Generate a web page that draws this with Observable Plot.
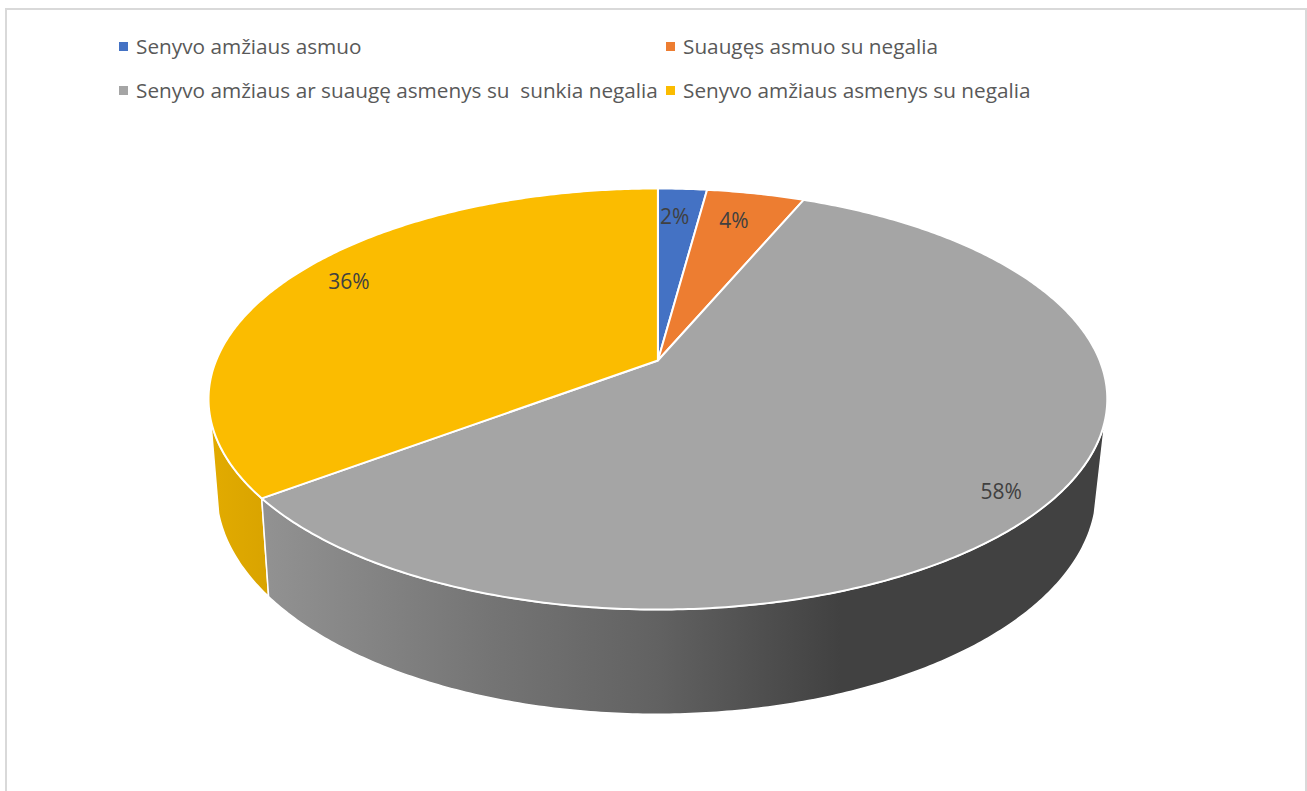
<!DOCTYPE html>
<html lang="lt">
<head>
<meta charset="utf-8">
<script src="https://cdn.jsdelivr.net/npm/d3@7"></script>
<script src="https://cdn.jsdelivr.net/npm/@observablehq/plot@0.6"></script>
<style>
  html, body { margin: 0; padding: 0; background: #fff; width: 1307px; height: 791px; overflow: hidden; }
  #frame { position: absolute; left: 5px; top: 8px; width: 1298px; height: 790px; border: 2px solid #d9d9d9; box-sizing: content-box; }
  #legend { position: absolute; left: 0; top: 0; width: 1307px; height: 120px; font: 20.75px "Open Sans", sans-serif; color: #595959; white-space: pre; }
  .item { position: absolute; line-height: 28px; height: 28px; }
  .item i { position: absolute; left: 0; top: 10px; width: 9px; height: 9px; }
  .item span { position: absolute; left: 17px; }
  #chart { position: absolute; left: 0; top: 120px; }
  #chart svg { display: block; background: transparent; }
</style>
</head>
<body>
<div id="frame"></div>
<div id="legend"></div>
<div id="chart"></div>
<script>
const categories = ["Senyvo amžiaus asmuo", "Suaugęs asmuo su negalia", "Senyvo amžiaus ar suaugę asmenys su  sunkia negalia", "Senyvo amžiaus asmenys su negalia"];
const shares = [2.1, 4.2, 58.4, 35.3];
const shareLabels = ["2%", "4%", "58%", "36%"];
const colors = ["#4472c4", "#ed7d31", "#a5a5a5", "#fbbc00"];

// Layout of the tilted disc
const tilt = 0.1829;
const topFace = {cx: 657.4, cy: 360, a: 441.8, b: 203.5};
const lowFace = {cx: 656, cy: 450, a: 432.6, b: 215.5};
const sideLimit = 1.85;                // angle where the rim turns out of sight
const labelRadius = [0.808, 0.805, 0.905, 0.858];
const labelTurn = [-0.012, -0.017, 0.036, 0.04];
const legendSlots = [[119, 32], [666, 32], [119, 76], [666, 76]];

const project = (f, t, r = 1) => {
  const w = 1 + tilt * r * Math.cos(t);
  return {x: f.cx + f.a * r * Math.sin(t) / w, y: f.cy - f.b * r * Math.cos(t) / w};
};
const arc = (f, t0, t1) => {
  const n = Math.max(2, Math.ceil(Math.abs(t1 - t0) / 0.01));
  return d3.range(n + 1).map(i => project(f, t0 + (t1 - t0) * i / n));
};

const bounds = d3.cumsum([0, ...shares]).map(v => v / d3.sum(shares) * 2 * Math.PI);
const tops = categories.flatMap((c, i) => {
  const apex = {x: topFace.cx, y: topFace.cy};
  return [apex, ...arc(topFace, bounds[i], bounds[i + 1]), apex].map(p => ({...p, slice: c}));
});
const rim = (t0, t1) => {
  const pts = [...arc(topFace, t0, t1), ...arc(lowFace, t1, t0)];
  return [...pts, pts[0]];
};
const graySide = rim(sideLimit, bounds[3]);
const yellowSide = rim(bounds[3], 2 * Math.PI - sideLimit);
const labels = categories.map((c, i) => {
  const mid = (bounds[i] + bounds[i + 1]) / 2 + labelTurn[i];
  return {...project(topFace, mid, labelRadius[i]), text: shareLabels[i]};
});

const gradient = (id, x1, x2, stops) => () => {
  const defs = d3.create("svg:defs");
  const g = defs.append("linearGradient").attr("id", id).attr("gradientUnits", "userSpaceOnUse")
    .attr("x1", x1).attr("x2", x2).attr("y1", 0).attr("y2", 0);
  stops.forEach(([o, c]) => g.append("stop").attr("offset", o).attr("stop-color", c));
  return defs.node();
};

const chart = Plot.plot({
  width: 1307, height: 671, margin: 0,
  x: {domain: [0, 1307], range: [0, 1307], axis: null},
  y: {domain: [120, 791], range: [0, 671], axis: null},
  color: {domain: categories, range: colors},
  style: {background: "transparent"},
  marks: [
    gradient("graySide", 262, 840, [[0, "#929292"], [0.4, "#747474"], [0.68, "#626262"], [1, "#414141"]]),
    gradient("yellowSide", 211, 272, [[0, "#e2ab00"], [1, "#d8a300"]]),
    Plot.line(yellowSide, {x: "x", y: "y", fill: "url(#yellowSide)", stroke: "#fff", strokeWidth: 1.5}),
    Plot.line(graySide, {x: "x", y: "y", fill: "url(#graySide)", stroke: "#fff", strokeWidth: 1.5}),
    Plot.line(tops, {x: "x", y: "y", z: "slice", fill: "slice", stroke: "#fff", strokeWidth: 2, strokeLinejoin: "round"}),
    Plot.text(labels, {x: "x", y: "y", text: "text", fontSize: 21, fill: "#404040", fontFamily: "Open Sans"})
  ]
});
document.getElementById("chart").append(chart);

const legend = d3.select("#legend");
categories.forEach((c, i) => {
  const item = legend.append("div").attr("class", "item")
    .style("left", legendSlots[i][0] + "px").style("top", legendSlots[i][1] + "px");
  item.append("i").style("background", colors[i]);
  item.append("span").text(c);
});
</script>
</body>
</html>
